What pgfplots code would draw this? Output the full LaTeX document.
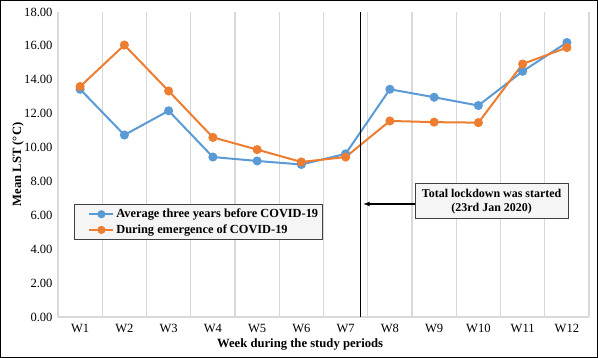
\documentclass[border=0pt]{standalone}
\usepackage{pgfplots}
\pgfplotsset{compat=1.18}
\usepackage{fontspec}
\setmainfont{Liberation Serif}
\definecolor{cblue}{HTML}{5B9BD5}
\definecolor{corange}{HTML}{ED7D31}
\definecolor{cgrid}{HTML}{D9D9D9}
\begin{document}
\begin{tikzpicture}
\begin{axis}[
  scale only axis,
  width=531bp, height=305bp,
  xmin=0.5, xmax=12.5, ymin=0, ymax=18,
  xtick={1,...,12},
  xticklabels={W1,W2,W3,W4,W5,W6,W7,W8,W9,W10,W11,W12},
  minor xtick={0.5,1.5,...,12.5},
  xminorgrids=true,
  minor grid style={draw=cgrid, line width=1.2bp},
  ytick={0,2,...,18},
  major tick length=0pt, minor tick length=0pt,
  axis x line*=bottom, axis y line*=left,
  axis line style={draw=cgrid, line width=1.2bp, -},
  /pgf/number format/assume math mode=true,
  /pgf/number format/fixed,
  /pgf/number format/zerofill,
  /pgf/number format/precision=2,
  ticklabel style={font=\fontsize{12.6}{14}\selectfont},
  xticklabel style={yshift=-4bp},
  yticklabel style={xshift=-2bp},
  xlabel={\textbf{Week during the study periods}},
  ylabel={\textbf{Mean LST (°C)}},
  label style={font=\fontsize{12.7}{14}\selectfont},
  xlabel style={at={(axis description cs:0.456,-0.090)}, anchor=center},
  ylabel style={at={(axis description cs:-0.0753,0.5)}, anchor=center},
  legend style={at={(axis description cs:0.030,0.370)}, anchor=north west,
    fill=gray!8, draw=black!75, line width=1bp,
    font=\fontsize{12.4}{14}\selectfont\bfseries, row sep=1.5bp,
    inner xsep=2bp, inner ysep=2.5bp},
  legend cell align=left,
  legend image code/.code={
    \path (-12bp,0bp);
    \draw[#1, line width=2bp] (0bp,0bp) -- (24bp,0bp);
    \fill[#1] (12bp,0bp) circle (3bp);
  },
  clip=false,
]
\addplot[cblue, line width=2bp, mark=*, mark size=3.5bp, mark options={fill=cblue, draw=cblue}]
  coordinates {(1,13.44) (2,10.74) (3,12.17) (4,9.44) (5,9.21) (6,9.0) (7,9.63) (8,13.44) (9,12.97) (10,12.48) (11,14.5) (12,16.2)};
\addlegendentry{Average three years before COVID-19}
\addplot[corange, line width=2bp, mark=*, mark size=3.5bp, mark options={fill=corange, draw=corange}]
  coordinates {(1,13.6) (2,16.05) (3,13.34) (4,10.6) (5,9.88) (6,9.15) (7,9.44) (8,11.57) (9,11.5) (10,11.47) (11,14.93) (12,15.9)};
\addlegendentry{During emergence of COVID-19}
\draw[black, line width=1.2bp] (axis cs:7.33,0) -- (axis cs:7.33,18);
\draw[black, line width=1.2bp, -latex] (axis cs:8.57,6.67) -- (axis cs:7.40,6.67);
\node[draw=black!75, line width=1bp, fill=gray!8, minimum width=153bp, minimum height=35bp, align=center,
  font=\fontsize{12}{14.5}\selectfont\bfseries, inner sep=2bp]
  at (axis cs:10.30,6.82) {Total lockdown was started\\(23rd Jan 2020)};
\end{axis}
\draw[black, line width=1bp] (-57.5bp,-40.5bp) rectangle (539.5bp,316.5bp);
\end{tikzpicture}
\end{document}
